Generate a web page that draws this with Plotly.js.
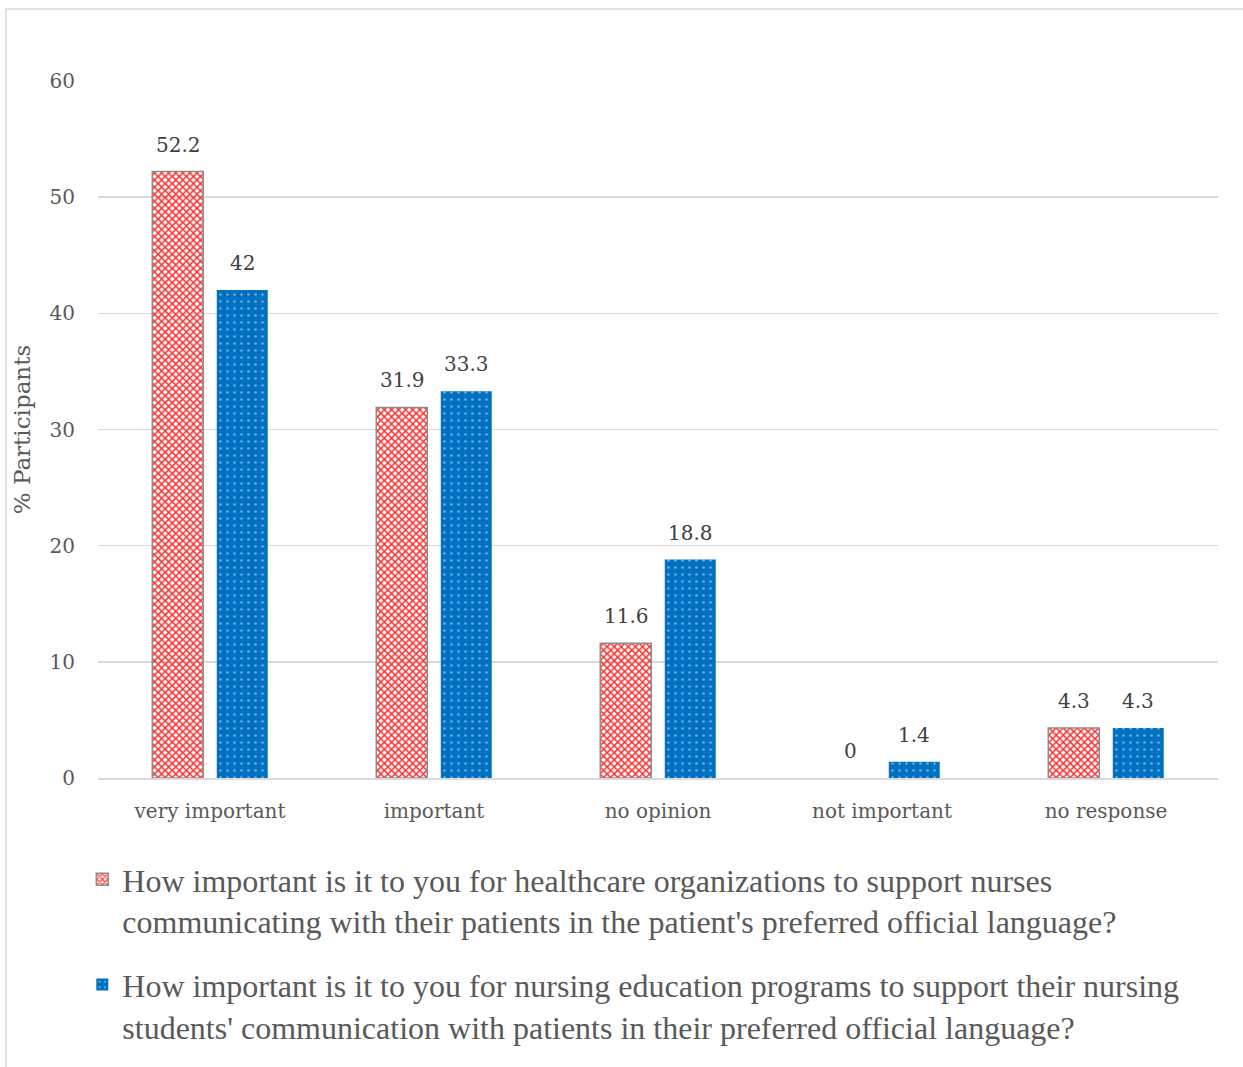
<!DOCTYPE html>
<html><head><meta charset="utf-8">
<script src="https://cdn.plot.ly/plotly-3.0.1.min.js"></script>
<style>html,body{margin:0;padding:0;background:#fff}#chart{width:1243px;height:1067px}</style>
</head><body><div id="chart"></div>
<script>
const categories = ["very important", "important", "no opinion", "not important", "no response"];
const orgValues = [52.2, 31.9, 11.6, 0, 4.3];
const eduValues = [42, 33.3, 18.8, 1.4, 4.3];
const orgName = "How important is it to you for healthcare organizations to support nurses<br>communicating with their patients in the patient's preferred official language?";
const eduName = "How important is it to you for nursing education programs to support their nursing<br>students' communication with patients in their preferred official language?";
const yTicks = [0, 10, 20, 30, 40, 50, 60];

const serif = "DejaVu Serif, Liberation Serif, serif";
const labelFont = {family: serif, size: 20, color: "#404040"};

const traces = [
  {type: "bar", x: categories, y: orgValues, name: orgName, legendgroup: "org",
   hoverinfo: "skip",
   marker: {color: "#ffd0d0", line: {color: "#8c8c8c", width: orgValues.map(v => v === 0 ? 0 : 1.5)},
            pattern: {shape: "x", fgcolor: "#ff3030", size: 5, solidity: 0.5}}},
  {type: "bar", x: categories, y: eduValues, name: eduName, legendgroup: "edu",
   hoverinfo: "skip",
   marker: {color: "#0070c0", line: {width: 0},
            pattern: {shape: ".", fgcolor: "#6aaae6", bgcolor: "#0070c0", size: 7, solidity: 0.12}}}
];

// value labels, placed through the axes at each bar's value
const annotations = [];
[[orgValues, -32], [eduValues, 32]].forEach(([vals, dx]) => {
  vals.forEach((v, i) => annotations.push({
    x: categories[i], y: v, xref: "x", yref: "y", text: String(v), showarrow: false,
    xshift: dx, yanchor: "bottom", yshift: 13, font: labelFont
  }));
});

const L = 98, R = 25, T = 81, B = 289, W = 1243, H = 1067;
const pw = W - L - R, ph = H - T - B;

const layout = {
  width: W, height: H,
  margin: {l: L, r: R, t: T, b: B, pad: 0},
  paper_bgcolor: "#fff", plot_bgcolor: "#fff",
  barmode: "group", bargap: 0.424, bargroupgap: 0.21,
  showlegend: true,
  annotations: annotations,
  xaxis: {tickfont: {family: serif, size: 20, color: "#595959"},
          showline: true, linecolor: "#d9d9d9", linewidth: 1.5, ticks: "", ticklabelstandoff: 14, fixedrange: true},
  yaxis: {range: [0, 60], tickvals: yTicks, ticktext: yTicks.map(String),
          tickfont: {family: serif, size: 20, color: "#595959"},
          gridcolor: "#d9d9d9", gridwidth: 1.5, zeroline: false, ticks: "", ticklabelstandoff: 22,
          title: {text: "% Participants", font: {family: serif, size: 23, color: "#595959"}, standoff: 12},
          fixedrange: true},
  legend: {orientation: "v", xref: "paper", x: -0.014, xanchor: "left",
           yref: "container", y: 1 - 852 / H, yanchor: "top",
           font: {family: "Liberation Serif, Times New Roman, serif", size: 32, color: "#595959"},
           tracegroupgap: 19, itemwidth: 30, valign: "top", bgcolor: "rgba(0,0,0,0)"},
  shapes: [{type: "rect", xref: "paper", yref: "paper",
            x0: (6 - L) / pw, x1: (W + 10 - L) / pw,
            y0: -(B + 10) / ph, y1: (H - B - 9) / ph,
            line: {color: "#d9d9d9", width: 1.5}, fillcolor: "rgba(0,0,0,0)", layer: "below"}]
};

Plotly.newPlot("chart", traces, layout, {displayModeBar: false, staticPlot: true});
</script></body></html>
